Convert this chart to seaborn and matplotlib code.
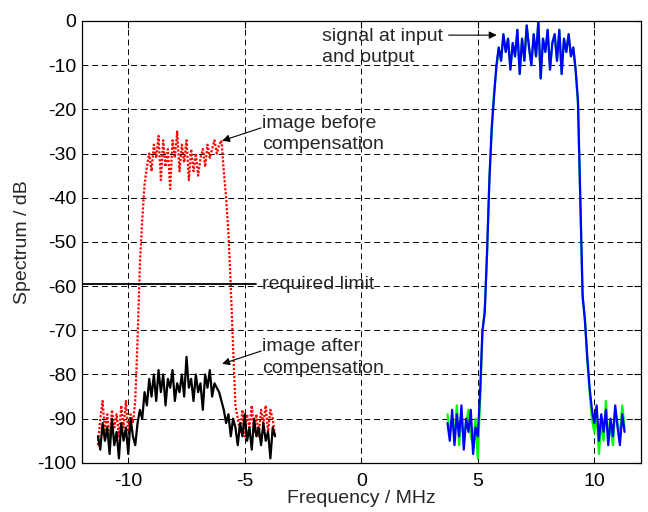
import matplotlib
matplotlib.use('Agg')
import matplotlib.pyplot as plt
import seaborn as sns

sns.set_style('white')
plt.rcParams['font.family'] = ['Liberation Sans', 'DejaVu Sans']
plt.rcParams['axes.unicode_minus'] = False

# frequency bins (MHz) of the wanted signal band, image band is the mirror
freq_sig = [3.7, 3.8, 3.9, 4.0, 4.1, 4.2, 4.3, 4.4, 4.5, 4.6, 4.7, 4.8, 4.9,
            5.0, 5.1, 5.2, 5.3, 5.4, 5.5, 5.6, 5.7, 5.8, 5.9, 6.0, 6.1, 6.2,
            6.3, 6.4, 6.5, 6.6, 6.7, 6.8, 6.9, 7.0, 7.1, 7.2, 7.3, 7.4, 7.5,
            7.6, 7.7, 7.8, 7.9, 8.0, 8.1, 8.2, 8.3, 8.4, 8.5, 8.6, 8.7, 8.8,
            8.9, 9.0, 9.1, 9.2, 9.3, 9.4, 9.5, 9.6, 9.7, 9.8, 9.9, 10.0, 10.1,
            10.2, 10.3, 10.4, 10.5, 10.6, 10.7, 10.8, 10.9, 11.0, 11.1, 11.2, 11.3]
freq_img = [-11.3, -11.2, -11.1, -11.0, -10.9, -10.8, -10.7, -10.6, -10.5,
            -10.4, -10.3, -10.2, -10.1, -10.0, -9.9, -9.8, -9.7, -9.6, -9.5,
            -9.4, -9.3, -9.2, -9.1, -9.0, -8.9, -8.8, -8.7, -8.6, -8.5, -8.4,
            -8.3, -8.2, -8.1, -8.0, -7.9, -7.8, -7.7, -7.6, -7.5, -7.4, -7.3,
            -7.2, -7.1, -7.0, -6.9, -6.8, -6.7, -6.6, -6.5, -6.4, -6.3, -6.2,
            -6.1, -6.0, -5.9, -5.8, -5.7, -5.6, -5.5, -5.4, -5.3, -5.2, -5.1,
            -5.0, -4.9, -4.8, -4.7, -4.6, -4.5, -4.4, -4.3, -4.2, -4.1, -4.0,
            -3.9, -3.8, -3.7]

sig_input = [-89, -93, -90, -94, -87, -96, -89, -95, -91, -88, -94, -96, -90,
             -99, -86, -71, -65, -53, -35, -25, -16, -11, -6, -9, -3, -7,
             -4, -11, -5, -8, -2, -12, -4, -9, -1, -6, -10, -3, -8,
             0, -13, -4, -7, -2, -11, -5, -3, -9, -2, -12, -4, -7,
             -3, -8, -6, -11, -19, -41, -63, -67, -77, -84, -90, -93, -89,
             -98, -91, -95, -86, -94, -92, -96, -88, -91, -94, -87, -92]
sig_output = [-91, -95, -88, -96, -89, -94, -87, -97, -90, -93, -88, -98, -92,
              -94, -84, -70, -66, -52, -36, -24, -17, -10, -6, -9, -3, -7,
              -4, -11, -5, -8, -2, -12, -4, -9, -1, -6, -10, -3, -8,
              0, -13, -4, -7, -2, -11, -5, -3, -9, -2, -12, -4, -7,
              -3, -8, -6, -11, -18, -40, -62, -68, -76, -83, -88, -91, -87,
              -95, -89, -93, -88, -96, -90, -94, -87, -92, -96, -89, -93]
img_before = [-96, -90, -86, -93, -89, -95, -88, -92, -89,
              -94, -87, -92, -86, -93, -89, -91, -86, -72, -55,
              -45, -37, -33, -30, -34, -28, -31, -26, -36, -27, -33,
              -29, -38, -27, -31, -25, -34, -28, -32, -27, -36, -29,
              -34, -30, -35, -31, -29, -33, -28, -31, -29, -27, -30,
              -28, -27, -34, -40, -48, -60, -74, -87, -90, -93, -88,
              -94, -89, -92, -87, -93, -89, -94, -88, -91, -87, -93,
              -88, -90, -94]
img_after = [-94, -97, -91, -95, -92, -98, -90, -96, -93,
             -99, -91, -95, -92, -98, -90, -94, -96, -91, -88,
             -90, -84, -87, -81, -85, -80, -86, -79, -84, -80, -87,
             -81, -83, -79, -86, -82, -84, -80, -85, -76, -83, -81,
             -86, -80, -84, -82, -88, -80, -83, -79, -85, -82, -83,
             -84, -86, -88, -91, -89, -94, -90, -92, -96, -91, -94,
             -89, -95, -92, -97, -90, -94, -92, -96, -91, -95, -93,
             -99, -92, -94]

limit_x = [-12, -4.5]
limit_y = [-59.5, -59.5]

fig = plt.figure(figsize=(6.48, 5.12), dpi=100)
ax = fig.add_axes([0.126, 0.096, 0.863, 0.863])

sns.lineplot(x=freq_img, y=img_before, ax=ax, color='red',
             linestyle=(0, (1, 0.8)), linewidth=1.6, sort=False, estimator=None)
sns.lineplot(x=freq_img, y=img_after, ax=ax, color='black', linewidth=1.6,
             sort=False, estimator=None)
sns.lineplot(x=freq_sig, y=sig_input, ax=ax, color='#00ff00', linewidth=1.6,
             sort=False, estimator=None)
sns.lineplot(x=freq_sig, y=sig_output, ax=ax, color='blue', linewidth=1.6,
             sort=False, estimator=None)
ax.plot(limit_x, limit_y, color='black', linewidth=1.3)

fs = 14
ax.set_xlim(-12, 12)
ax.set_ylim(-100, 0)
ax.set_xticks([-10, -5, 0, 5, 10])
ax.set_yticks(range(-100, 1, 10))
ax.grid(True, color='black', linestyle=(0, (6, 4)), linewidth=0.7)
ax.tick_params(direction='in', top=True, right=True, length=5, width=0.8,
               labelsize=fs, pad=4, colors='black')
ax.tick_params(axis='x', pad=7)
for s in ax.spines.values():
    s.set_color('black')
    s.set_linewidth(0.9)

ax.set_xlabel('Frequency / MHz', fontsize=fs, labelpad=0)
ax.set_ylabel('Spectrum / dB', fontsize=fs, labelpad=4)

arrow = dict(arrowstyle='-|>', color='black', lw=0.8, mutation_scale=11,
             shrinkA=0, shrinkB=0)
ax.text(-1.69, -5.9, 'signal at input\nand output', fontsize=fs,
        va='center', ha='left', linespacing=1.35)
ax.annotate('', xy=(5.81, -3.2), xytext=(3.75, -3.2), arrowprops=arrow)

ax.text(-4.26, -25.6, 'image before\ncompensation', fontsize=fs,
        va='center', ha='left', linespacing=1.35)
ax.annotate('', xy=(-5.97, -27.1), xytext=(-4.3, -24.2), arrowprops=arrow)

ax.text(-4.26, -59.7, 'required limit', fontsize=fs, va='center', ha='left')

ax.text(-4.26, -76.2, 'image after\ncompensation', fontsize=fs,
        va='center', ha='left', linespacing=1.35)
ax.annotate('', xy=(-5.97, -77.6), xytext=(-4.3, -74.7), arrowprops=arrow)

fig.savefig('out.png', dpi=100)
